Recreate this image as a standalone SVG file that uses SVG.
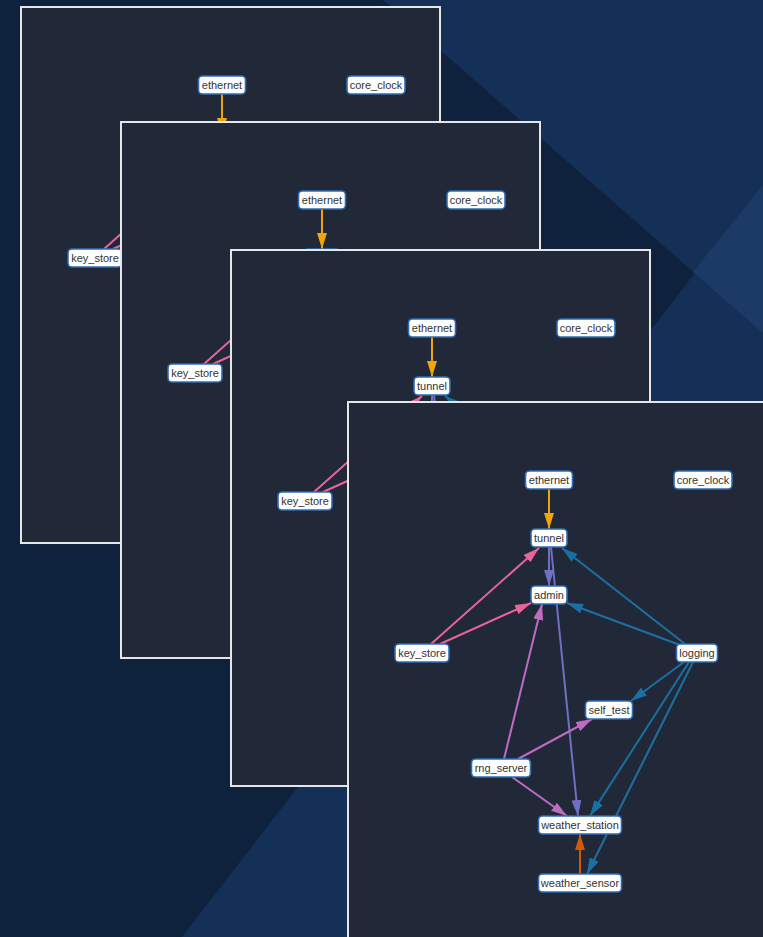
<svg xmlns="http://www.w3.org/2000/svg" xmlns:xlink="http://www.w3.org/1999/xlink" width="763" height="937" viewBox="0 0 763 937">
  <style>
    .panel { fill: #212938; stroke: #e4e6ea; stroke-width: 2; }
    .node rect { fill: #ffffff; stroke: #2d6cb4; stroke-width: 1.6; }
    .node text { font-family: "Liberation Sans", Arial, sans-serif; font-size: 11px; fill: #333333; text-anchor: middle; }
    .edge { fill: none; stroke-width: 2; }
    .e-orange { stroke: #f0a30a; }
    .e-brown { stroke: #d25a06; }
    .e-pink { stroke: #e8649a; }
    .e-orchid { stroke: #bd6cc2; }
    .e-slate { stroke: #6f6fc4; }
    .e-blue { stroke: #1b70a3; }
  </style>
  <defs>
    <marker id="ah-orange" viewBox="0 0 16 10" refX="16" refY="5" markerWidth="8" markerHeight="5" orient="auto"><path d="M0 0 L16 5 L0 10 z" fill="#f0a30a"/></marker>
    <marker id="ah-brown" viewBox="0 0 16 10" refX="16" refY="5" markerWidth="8" markerHeight="5" orient="auto"><path d="M0 0 L16 5 L0 10 z" fill="#d25a06"/></marker>
    <marker id="ah-pink" viewBox="0 0 16 10" refX="16" refY="5" markerWidth="8" markerHeight="5" orient="auto"><path d="M0 0 L16 5 L0 10 z" fill="#e8649a"/></marker>
    <marker id="ah-orchid" viewBox="0 0 16 10" refX="16" refY="5" markerWidth="8" markerHeight="5" orient="auto"><path d="M0 0 L16 5 L0 10 z" fill="#bd6cc2"/></marker>
    <marker id="ah-slate" viewBox="0 0 16 10" refX="16" refY="5" markerWidth="8" markerHeight="5" orient="auto"><path d="M0 0 L16 5 L0 10 z" fill="#6f6fc4"/></marker>
    <marker id="ah-blue" viewBox="0 0 16 10" refX="16" refY="5" markerWidth="8" markerHeight="5" orient="auto"><path d="M0 0 L16 5 L0 10 z" fill="#1b70a3"/></marker>
  </defs>

  <!-- backdrop: dark navy with two lighter diagonal bands -->
  <g id="backdrop">
    <rect x="0" y="0" width="763" height="937" fill="#0e223e"/>
    <polygon points="383,0 763,0 763,333" fill="#153056"/>
    <polygon points="763,185 763,937 182,937" fill="#153056"/>
    <polygon points="763,185 763,333 693,272" fill="#1b3a66"/>
  </g>

  <!-- stacked panels, back to front; each shows the same graph -->
  <rect class="panel" x="21" y="7" width="419" height="536"/>
  <use xlink:href="#graph" href="#graph" x="-327" y="-395"/>

  <rect class="panel" x="121" y="122" width="419" height="536"/>
  <use xlink:href="#graph" href="#graph" x="-227" y="-280"/>

  <rect class="panel" x="231" y="250" width="419" height="536"/>
  <use xlink:href="#graph" href="#graph" x="-117" y="-152"/>

  <rect class="panel" x="348" y="402" width="419" height="540"/>

  <g id="graph">
    <g id="connectors">
      <path class="edge e-orange" d="M549 489 L549 529" marker-end="url(#ah-orange)"/>
      <path class="edge e-slate" d="M551 547 L578 816" marker-end="url(#ah-slate)"/>
      <path class="edge e-slate" d="M549 547 L549 586" marker-end="url(#ah-slate)"/>
      <path class="edge e-pink" d="M431 644 L539 548" marker-end="url(#ah-pink)"/>
      <path class="edge e-pink" d="M440 644 L531 603" marker-end="url(#ah-pink)"/>
      <path class="edge e-blue" d="M685 644 L562 548" marker-end="url(#ah-blue)"/>
      <path class="edge e-blue" d="M680 645 L567 603" marker-end="url(#ah-blue)"/>
      <path class="edge e-blue" d="M684 662 L631 701" marker-end="url(#ah-blue)"/>
      <path class="edge e-blue" d="M689 662 L590 816" marker-end="url(#ah-blue)"/>
      <path class="edge e-blue" d="M693 662 L587 874" marker-end="url(#ah-blue)"/>
      <path class="edge e-orchid" d="M504 759 L542 604" marker-end="url(#ah-orchid)"/>
      <path class="edge e-orchid" d="M518 759 L592 719" marker-end="url(#ah-orchid)"/>
      <path class="edge e-orchid" d="M512 777 L567 816" marker-end="url(#ah-orchid)"/>
      <path class="edge e-brown" d="M580 874 L580 834" marker-end="url(#ah-brown)"/>
    </g>
    <g id="node-ethernet" class="node"><rect x="525.5" y="471" width="47" height="18" rx="4"/><text x="549" y="484">ethernet</text></g>
    <g id="node-core_clock" class="node"><rect x="674" y="471" width="58" height="18" rx="4"/><text x="703" y="484">core_clock</text></g>
    <g id="node-tunnel" class="node"><rect x="531" y="529" width="36" height="18" rx="4"/><text x="549" y="542">tunnel</text></g>
    <g id="node-admin" class="node"><rect x="531" y="586" width="36" height="18" rx="4"/><text x="549" y="599">admin</text></g>
    <g id="node-key_store" class="node"><rect x="395" y="644" width="54" height="18" rx="4"/><text x="422" y="657">key_store</text></g>
    <g id="node-logging" class="node"><rect x="676.5" y="644" width="41" height="18" rx="4"/><text x="697" y="657">logging</text></g>
    <g id="node-self_test" class="node"><rect x="585.5" y="701" width="47" height="18" rx="4"/><text x="609" y="714">self_test</text></g>
    <g id="node-rng_server" class="node"><rect x="471.5" y="759" width="59" height="18" rx="4"/><text x="501" y="772">rng_server</text></g>
    <g id="node-weather_station" class="node"><rect x="538.5" y="816" width="83" height="18" rx="4"/><text x="580" y="829">weather_station</text></g>
    <g id="node-weather_sensor" class="node"><rect x="538.5" y="874" width="83" height="18" rx="4"/><text x="580" y="887">weather_sensor</text></g>
  </g>
</svg>
